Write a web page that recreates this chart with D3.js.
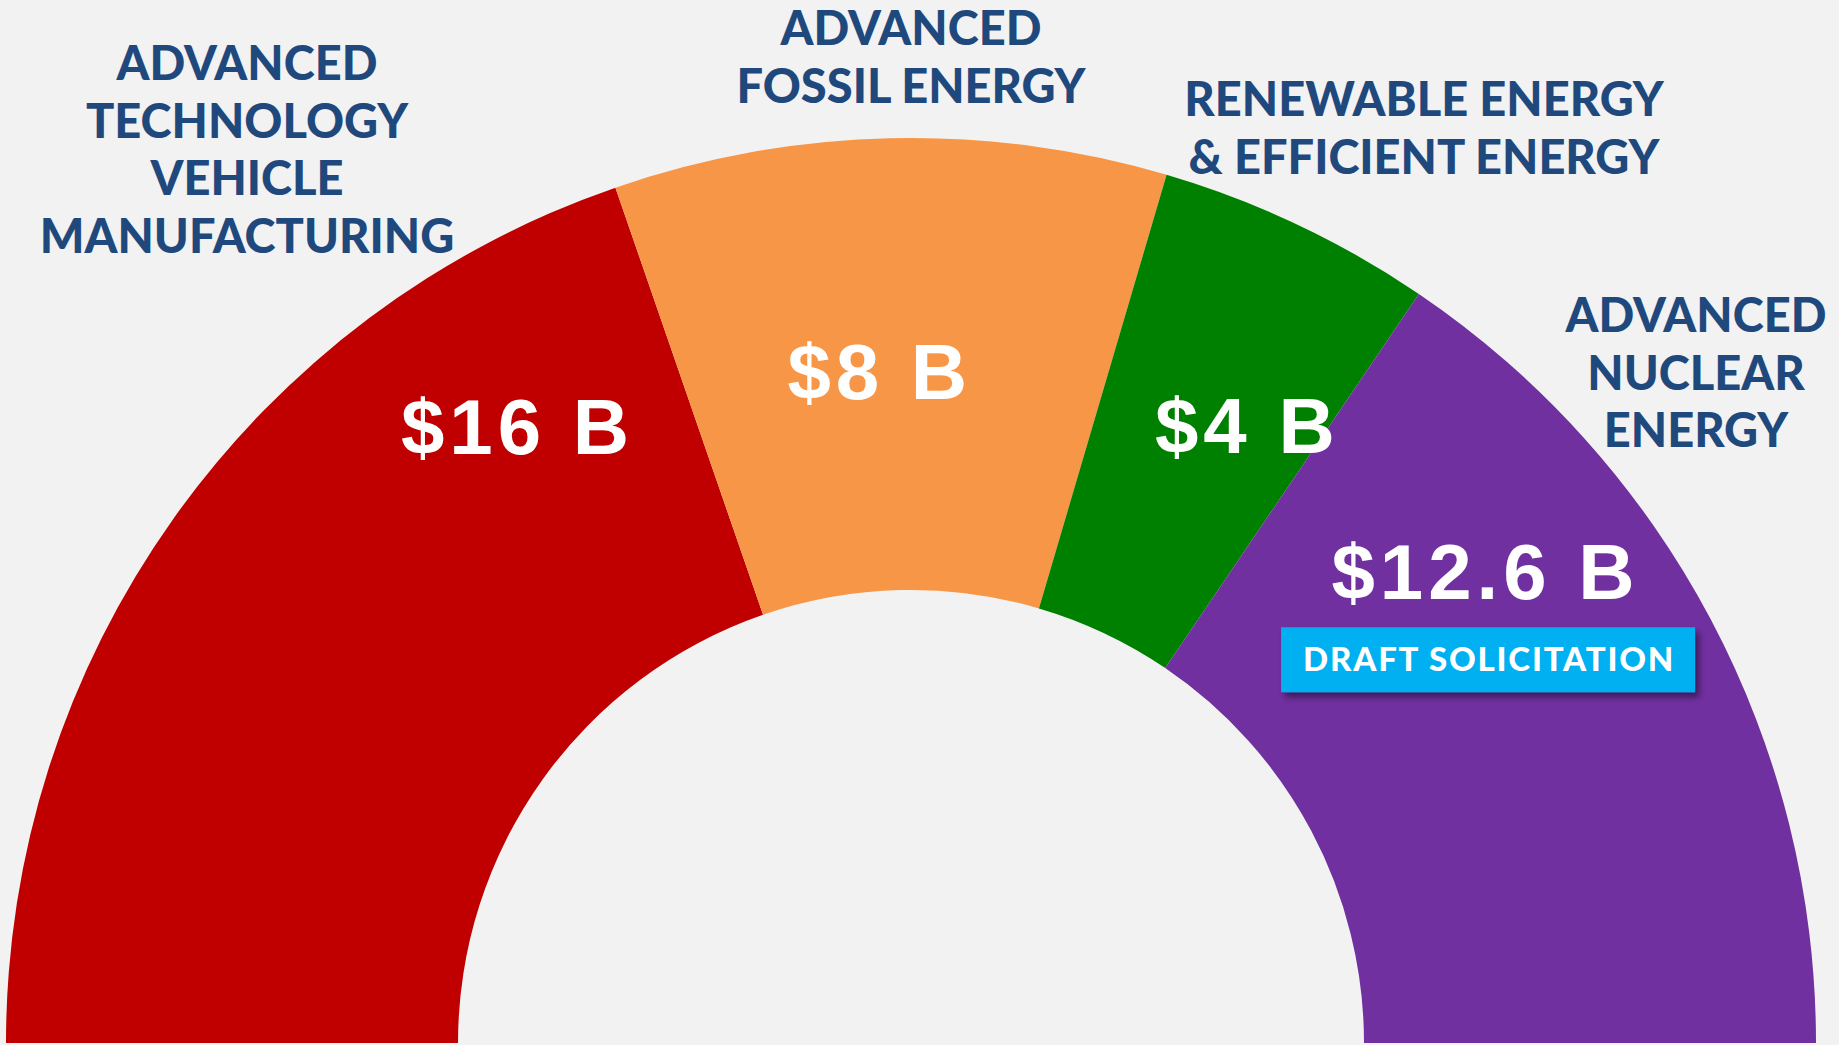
<!DOCTYPE html>
<html>
<head>
<meta charset="utf-8">
<script src="https://cdn.jsdelivr.net/npm/d3@7"></script>
<style>
  html, body { margin: 0; padding: 0; background: #f2f2f2; }
  svg { display: block; }
</style>
</head>
<body>
<div id="chart"></div>
<script>
// loan authority by program, billions of dollars
var programs = ['Advanced Technology Vehicle Manufacturing', 'Advanced Fossil Energy',
  'Renewable Energy & Efficient Energy', 'Advanced Nuclear Energy']
var amounts = [16, 8, 4, 12.6]
var valueLabels = ['$16 B', '$8 B', '$4 B', '$12.6 B']
var categoryLines = [
  ['ADVANCED', 'TECHNOLOGY', 'VEHICLE', 'MANUFACTURING'],
  ['ADVANCED', 'FOSSIL ENERGY'],
  ['RENEWABLE ENERGY', '& EFFICIENT ENERGY'],
  ['ADVANCED', 'NUCLEAR', 'ENERGY']
]
var colors = ['#c00000', '#f79646', '#008000', '#7030a0']
var statusNote = 'DRAFT SOLICITATION'  // shown under the nuclear slice

var width = 1839
var height = 1045
var cx = 911
var cy = 1043
var outerR = 905
var innerR = 453

// where the labels sit (layout only): [angle in degrees, radius] for values,
// [center x, first baseline] for category names
var valueLabelAt = [[-33.9, 710], [-3.0, 645], [29.5, 678], [52.2, 724]]
var categoryAt = [[247, 80], [911, 45], [1424, 116], [1696, 332]]
var lineGap = 57.5

var svg = d3.select('#chart')
  .append('svg')
  .attr('width', width)
  .attr('height', height)

svg.append('rect')
  .attr('width', width)
  .attr('height', height)
  .attr('fill', '#f2f2f2')

var defs = svg.append('defs')
var shadow = defs.append('filter')
  .attr('id', 'shadow')
  .attr('x', '-10%').attr('y', '-20%')
  .attr('width', '130%').attr('height', '160%')
shadow.append('feDropShadow')
  .attr('dx', 4).attr('dy', 5)
  .attr('stdDeviation', 3)
  .attr('flood-color', '#000')
  .attr('flood-opacity', 0.45)

var pie = d3.pie()
  .sort(null)
  .startAngle(-Math.PI / 2)
  .endAngle(Math.PI / 2)

var arc = d3.arc()
  .innerRadius(innerR)
  .outerRadius(outerR)

var slices = pie(amounts)

var g = svg.append('g')
  .attr('transform', 'translate(' + cx + ',' + cy + ')')

g.selectAll('path.slice')
  .data(slices)
  .enter()
  .append('path')
  .attr('class', 'slice')
  .attr('d', arc)
  .attr('fill', function (d, i) { return colors[i] })

// value labels inside the slices
var valuePos = valueLabelAt.map(function (p) {
  return d3.pointRadial(p[0] * Math.PI / 180, p[1])
})

g.selectAll('text.value')
  .data(slices)
  .enter()
  .append('text')
  .attr('class', 'value')
  .attr('x', function (d, i) { return valuePos[i][0] + 2.5 })
  .attr('y', function (d, i) { return valuePos[i][1] })
  .attr('text-anchor', 'middle')
  .attr('fill', '#fff')
  .style('font-family', '"Liberation Sans", Arial, sans-serif')
  .style('font-weight', 'bold')
  .style('font-size', '78px')
  .style('letter-spacing', '5px')
  .text(function (d, i) { return valueLabels[i] })

// status badge under the last slice value
var last = valuePos[valuePos.length - 1]
var badge = g.append('g')
  .attr('transform', 'translate(' + (last[0] + 5) + ',' + (last[1] + 28) + ')')

badge.append('rect')
  .attr('x', -207)
  .attr('y', 0)
  .attr('width', 414)
  .attr('height', 65)
  .attr('fill', '#00b0f0')
  .attr('filter', 'url(#shadow)')

badge.append('text')
  .attr('x', 1)
  .attr('y', 44)
  .attr('text-anchor', 'middle')
  .attr('fill', '#fff')
  .style('font-family', 'Lato, "Open Sans", sans-serif')
  .style('font-weight', 900)
  .style('font-size', '33px')
  .style('letter-spacing', '1.8px')
  .text(statusNote)

// category names around the gauge
var cats = svg.selectAll('text.category')
  .data(categoryLines)
  .enter()
  .append('text')
  .attr('class', 'category')
  .attr('text-anchor', 'middle')
  .attr('fill', '#1f497d')
  .style('font-family', 'Lato, "Open Sans", sans-serif')
  .style('font-weight', 900)
  .style('font-size', '47px')

cats.selectAll('tspan')
  .data(function (lines, i) {
    return lines.map(function (l) { return { text: l, at: categoryAt[i] } })
  })
  .enter()
  .append('tspan')
  .attr('x', function (d) { return d.at[0] })
  .attr('y', function (d, j) { return d.at[1] + j * lineGap })
  .text(function (d) { return d.text })
</script>
</body>
</html>
